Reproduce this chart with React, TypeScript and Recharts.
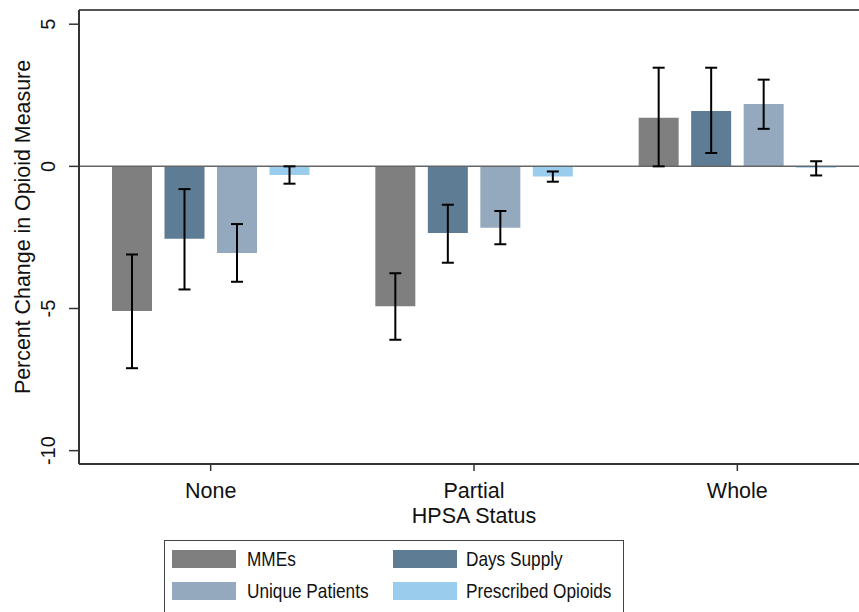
import { BarChart, Bar, XAxis, YAxis, ErrorBar, ReferenceLine, Label } from 'recharts';

const categories = ['None', 'Partial', 'Whole'];

const seriesNames = ['MMEs', 'Days Supply', 'Unique Patients', 'Prescribed Opioids'];
const seriesColors = ['#7f7f7f', '#5e7d94', '#94a9bd', '#9accee'];

// point estimates and 95% CI bounds, per category
const mmes = [-5.09, -4.92, 1.71];
const mmesLo = [-7.1, -6.1, 0.0];
const mmesHi = [-3.1, -3.76, 3.47];

const daysSupply = [-2.55, -2.34, 1.95];
const daysSupplyLo = [-4.33, -3.39, 0.47];
const daysSupplyHi = [-0.8, -1.35, 3.47];

const uniquePatients = [-3.05, -2.16, 2.19];
const uniquePatientsLo = [-4.06, -2.74, 1.32];
const uniquePatientsHi = [-2.03, -1.57, 3.05];

const prescribed = [-0.3, -0.36, -0.05];
const prescribedLo = [-0.61, -0.54, -0.32];
const prescribedHi = [0.0, -0.18, 0.18];

const yTicks = [-10, -5, 0, 5];
const yDomain = [-10.47, 5.5];

const values = [mmes, daysSupply, uniquePatients, prescribed];
const lows = [mmesLo, daysSupplyLo, uniquePatientsLo, prescribedLo];
const highs = [mmesHi, daysSupplyHi, uniquePatientsHi, prescribedHi];

const data = categories.map((cat, i) => {
  const row: any = { cat };
  values.forEach((v, s) => {
    row['s' + s] = v[i];
    row['e' + s] = [v[i] - lows[s][i], highs[s][i] - v[i]];
  });
  return row;
});

const font = '"Liberation Sans", Arial, sans-serif';

const YTick = ({ x, y, payload }: any) => (
  <text
    x={x - 12}
    y={y}
    transform={`rotate(-90, ${x - 12}, ${y})`}
    textAnchor="middle"
    fontSize={20}
    fill="#111"
    fontFamily={font}
  >
    {payload.value}
  </text>
);

export default function App() {
  return (
    <div style={{ position: 'absolute', left: 0, top: 0, width: 859, height: 612, overflow: 'hidden', background: '#fff', fontFamily: font }}>
      <BarChart
        width={870}
        height={612}
        data={data}
        margin={{ top: 10, right: 1, left: 0, bottom: 108 }}
        barSize={40}
        barGap={12.5}
      >
        <XAxis
          dataKey="cat"
          height={40}
          tickSize={7}
          tickMargin={12}
          axisLine={{ stroke: '#333', strokeWidth: 2 }}
          tickLine={{ stroke: '#333', strokeWidth: 1.5 }}
          tick={{ fontSize: 21.5, fill: '#111', fontFamily: font }}
        >
          <Label value="HPSA Status" position="bottom" offset={4} fontSize={21.5} fill="#111" fontFamily={font} />
        </XAxis>
        <YAxis
          width={79}
          domain={yDomain}
          ticks={yTicks}
          allowDataOverflow
          tickSize={10}
          axisLine={{ stroke: '#333', strokeWidth: 2 }}
          tickLine={{ stroke: '#333', strokeWidth: 1.5 }}
          tick={<YTick />}
        >
          <Label
            content={({ viewBox }: any) => {
              const cx = 30;
              const cy = viewBox.y + viewBox.height / 2 - 10;
              return (
                <text
                  x={cx}
                  y={cy}
                  transform={`rotate(-90, ${cx}, ${cy})`}
                  textAnchor="middle"
                  fontSize={21.4}
                  fill="#111"
                  fontFamily={font}
                >
                  Percent Change in Opioid Measure
                </text>
              );
            }}
          />
        </YAxis>
        <ReferenceLine y={yDomain[1]} stroke="#555" strokeWidth={2} />
        <ReferenceLine y={0} stroke="#666" strokeWidth={1.5} />
        {seriesNames.map((name, s) => (
          <Bar key={name} dataKey={'s' + s} name={name} fill={seriesColors[s]} isAnimationActive={false}>
            <ErrorBar dataKey={'e' + s} width={6} stroke="#000" strokeWidth={2} direction="y" />
          </Bar>
        ))}
      </BarChart>
      <div
        style={{
          position: 'absolute',
          left: 164,
          top: 540,
          width: 460,
          height: 80,
          border: '1px solid #444',
          boxSizing: 'border-box',
        }}
      >
        {seriesNames.map((name, s) => (
          <div
            key={name}
            style={{
              position: 'absolute',
              left: s % 2 === 0 ? 7 : 228,
              top: s < 2 ? 8 : 40,
              display: 'flex',
              alignItems: 'center',
              height: 20,
              whiteSpace: 'nowrap',
            }}
          >
            <div style={{ width: 64, height: 18, background: seriesColors[s] }} />
            <span
              style={{
                display: 'inline-block',
                marginLeft: s % 2 === 0 ? 11 : 9,
                fontSize: 21,
                color: '#111',
                lineHeight: '20px',
                transform: 'scaleX(0.82)',
                transformOrigin: 'left center',
              }}
            >
              {name}
            </span>
          </div>
        ))}
      </div>
    </div>
  );
}
